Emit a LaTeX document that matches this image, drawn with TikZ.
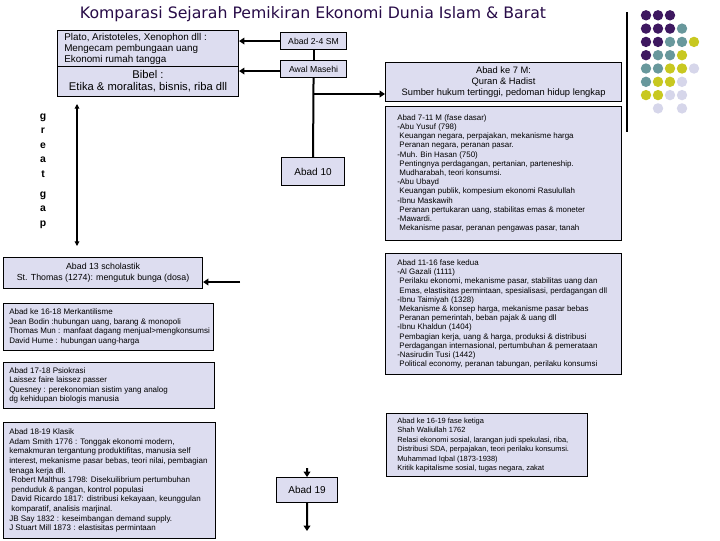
\documentclass[tikz,border=0pt]{standalone}
\usepackage{fontspec}
\setmainfont{Liberation Sans}
\newfontfamily\titlefont{DejaVu Sans}
\usetikzlibrary{arrows.meta}
\definecolor{boxfill}{RGB}{221,221,240}
\definecolor{titlecol}{RGB}{40,12,72}
\definecolor{dpurple}{RGB}{62,24,96}
\definecolor{dteal}{RGB}{104,152,156}
\definecolor{dyellow}{RGB}{200,200,32}
\definecolor{dlav}{RGB}{214,214,234}
\tikzset{
  box/.style={draw=black, fill=boxfill, line width=0.8pt, inner sep=0pt, anchor=north west},
  txt/.style={anchor=west, align=left, inner sep=0pt},
  rsmall/.style={font=\fontsize{5.95}{6.9}\selectfont},
  lsmall/.style={font=\fontsize{6}{7.1}\selectfont},
  conn/.style={line width=1.5pt},
  arr/.style={line width=1.5pt, -{Triangle[length=4pt,width=5pt]}},
  dot/.style={circle, inner sep=0pt, minimum size=7.8pt},
}
\begin{document}
\begin{tikzpicture}[x=0.75pt,y=-0.75pt]
\useasboundingbox (0,0) rectangle (720,540);
\fill[white] (0,0) rectangle (720,540);

% title
\node[text=titlecol, font=\titlefont\fontsize{11.8}{13}\selectfont] (title) at (313,14) {Komparasi Sejarah Pemikiran Ekonomi Dunia Islam \& Barat};

% decoration
\draw[line width=0.8pt] (627,12) coordinate (dl1) -- (627,132) coordinate (dl2);
\foreach \c/\r/\col in {1/1/dpurple,2/1/dpurple,3/1/dpurple,
  1/2/dpurple,2/2/dpurple,3/2/dpurple,4/2/dteal,
  1/3/dpurple,2/3/dpurple,3/3/dteal,4/3/dteal,5/3/dyellow,
  1/4/dpurple,2/4/dteal,3/4/dteal,4/4/dyellow,
  1/5/dteal,2/5/dteal,3/5/dyellow,4/5/dyellow,5/5/dlav,
  1/6/dteal,2/6/dyellow,3/6/dyellow,4/6/dlav,
  1/7/dyellow,2/7/dyellow,3/7/dlav,4/7/dlav,
  2/8/dlav,4/8/dlav}
  \node[dot, fill=\col] (d\c\r) at ({634+12*\c},{2+13.3*\r}) {};

% left top boxes
\node[box, minimum width=181pt*0.75, minimum height=36pt*0.75] (plato) at (57,30) {};
\node[txt, font=\fontsize{7.4}{8.3}\selectfont] (platot) at ([xshift=7pt*0.75]plato.west)
  {Plato, Aristoteles, Xenophon dll :\\Mengecam pembungaan uang\\Ekonomi rumah tangga};
\node[box, minimum width=181pt*0.75, minimum height=30pt*0.75, align=center,
  font=\fontsize{8.4}{9}\selectfont] (bibel) at (57,66)
  {Bibel :\\Etika \& moralitas, bisnis, riba dll};

% middle boxes
\node[box, minimum width=66pt*0.75, minimum height=17pt*0.75, font=\fontsize{6.5}{7}\selectfont] (m1) at (280,32) {Abad 2-4 SM};
\node[box, minimum width=66pt*0.75, minimum height=17pt*0.75, font=\fontsize{6.5}{7}\selectfont] (m2) at (280,60) {Awal Masehi};
\node[box, minimum width=63pt*0.75, minimum height=28pt*0.75, font=\fontsize{7.5}{8}\selectfont] (m3) at (281,157) {Abad 10};
\node[box, minimum width=61pt*0.75, minimum height=25pt*0.75, font=\fontsize{7.5}{8}\selectfont] (m4) at (276,477) {Abad 19};

% right boxes
\node[box, minimum width=236pt*0.75, minimum height=39pt*0.75, align=center,
  font=\fontsize{7}{8.3}\selectfont] (k7) at (385,62)
  {Abad ke 7 M:\\Quran \& Hadist\\Sumber hukum tertinggi, pedoman hidup lengkap};

\node[box, minimum width=236pt*0.75, minimum height=134pt*0.75] (r1) at (385,106) {};
\node[txt, rsmall] (r1t) at ([xshift=12pt*0.75]r1.west)
  {Abad 7-11 M (fase dasar)\\
  -Abu Yusuf (798)\\
  \ Keuangan negara, perpajakan, mekanisme harga\\
  \ Peranan negara, peranan pasar.\\
  -Muh. Bin Hasan (750)\\
  \ Pentingnya perdagangan, pertanian, parteneship.\\
  \ Mudharabah, teori konsumsi.\\
  -Abu Ubayd\\
  \ Keuangan publik, kompesium ekonomi Rasulullah\\
  -Ibnu Maskawih\\
  \ Peranan pertukaran uang, stabilitas emas \& moneter\\
  -Mawardi.\\
  \ Mekanisme pasar, peranan pengawas pasar, tanah};

\node[box, minimum width=236pt*0.75, minimum height=121pt*0.75] (r2) at (385,253) {};
\node[txt, rsmall] (r2t) at ([xshift=12pt*0.75]r2.west)
  {Abad 11-16 fase kedua\\
  -Al Gazali (1111)\\
  \ Perilaku ekonomi, mekanisme pasar, stabilitas uang dan\\
  \ Emas, elastisitas permintaan, spesialisasi, perdagangan dll\\
  -Ibnu Taimiyah (1328)\\
  \ Mekanisme \& konsep harga, mekanisme pasar bebas\\
  \ Peranan pemerintah, beban pajak \& uang dll\\
  -Ibnu Khaldun (1404)\\
  \ Pembagian kerja, uang \& harga, produksi \& distribusi\\
  \ Perdagangan internasional, pertumbuhan \& pemerataan\\
  -Nasirudin Tusi (1442)\\
  \ Political economy, peranan tabungan, perilaku konsumsi};

\node[box, minimum width=201pt*0.75, minimum height=63pt*0.75] (r3) at (386,413) {};
\node[txt, font=\fontsize{5.6}{7.1}\selectfont] (r3t) at ([xshift=11pt*0.75]r3.west)
  {Abad ke 16-19 fase ketiga\\
  Shah Waliullah 1762\\
  Relasi ekonomi sosial, larangan judi spekulasi, riba,\\
  Distribusi SDA, perpajakan, teori perilaku konsumsi.\\
  Muhammad Iqbal (1873-1938)\\
  Kritik kapitalisme sosial, tugas negara, zakat};

% left boxes
\node[box, minimum width=199pt*0.75, minimum height=31pt*0.75, align=center, font=\fontsize{6.6}{8.5}\selectfont] (l1) at (3,257)
  {Abad 13 scholastik\\St. Thomas (1274): mengutuk bunga (dosa)};

\node[box, minimum width=210pt*0.75, minimum height=47pt*0.75] (l2) at (3,303) {};
\node[txt, lsmall] (l2t) at ([xshift=6pt*0.75]l2.west)
  {Abad ke 16-18 Merkantilisme\\
  Jean Bodin :hubungan uang, barang \& monopoli\\
  Thomas Mun : manfaat dagang menjual>mengkonsumsi\\
  David Hume : hubungan uang-harga};

\node[box, minimum width=211pt*0.75, minimum height=46pt*0.75] (l3) at (3,362) {};
\node[txt, lsmall] (l3t) at ([xshift=6pt*0.75]l3.west)
  {Abad 17-18 Psiokrasi\\
  Laissez faire laissez passer\\
  Quesney : perekonomian sistim yang analog\\
  dg kehidupan biologis manusia};

\node[box, minimum width=212pt*0.75, minimum height=116pt*0.75] (l4) at (3,422) {};
\node[txt, font=\fontsize{6}{7.2}\selectfont] (l4t) at ([xshift=6pt*0.75]l4.west)
  {Abad 18-19 Klasik\\
  Adam Smith 1776 : Tonggak ekonomi modern,\\
  kemakmuran tergantung produktifitas, manusia self\\
  interest, mekanisme pasar bebas, teori nilai, pembagian\\
  tenaga kerja dll.\\
  \ Robert Malthus 1798: Disekuilibrium pertumbuhan\\
  \ penduduk \& pangan, kontrol populasi\\
  \ David Ricardo 1817: distribusi kekayaan, keunggulan\\
  \ komparatif, analisis marjinal.\\
  JB Say 1832 : keseimbangan demand supply.\\
  J Stuart Mill 1873 : elastisitas permintaan};

% great gap
\node[font=\bfseries\fontsize{7.8}{10.9}\selectfont, align=center] (gg) at (43,171) {g\\r\\e\\a\\t\\[4pt]g\\a\\p};
\coordinate (gt) at (77,104);
\coordinate (gb) at (77,246);
\draw[line width=0.8pt, {Triangle[length=3.5pt,width=3.5pt]}-{Triangle[length=3.5pt,width=3.5pt]}] (gt) -- (gb);

% connectors
\draw[arr] (m1.west) -- (m1.west -| plato.east);
\draw[arr] ([yshift=-1.5pt]m2.west) -- ([yshift=-1.5pt]m2.west -| bibel.east);
\draw[conn] (m1.south) -- (m2.north);
\draw[conn] (m2.south) -- (m3.north);
\coordinate (br7) at (313,94);
\draw[arr] (br7) -- (br7 -| k7.west);
\coordinate (t19) at (307,468);
\coordinate (b19) at (307,531);
\draw[arr] (t19) -- (m4.north);
\draw[arr] (m4.south) -- (b19);
\coordinate (th) at (240,282);
\draw[arr] (th) -- (th -| l1.east);
\end{tikzpicture}
\end{document}
